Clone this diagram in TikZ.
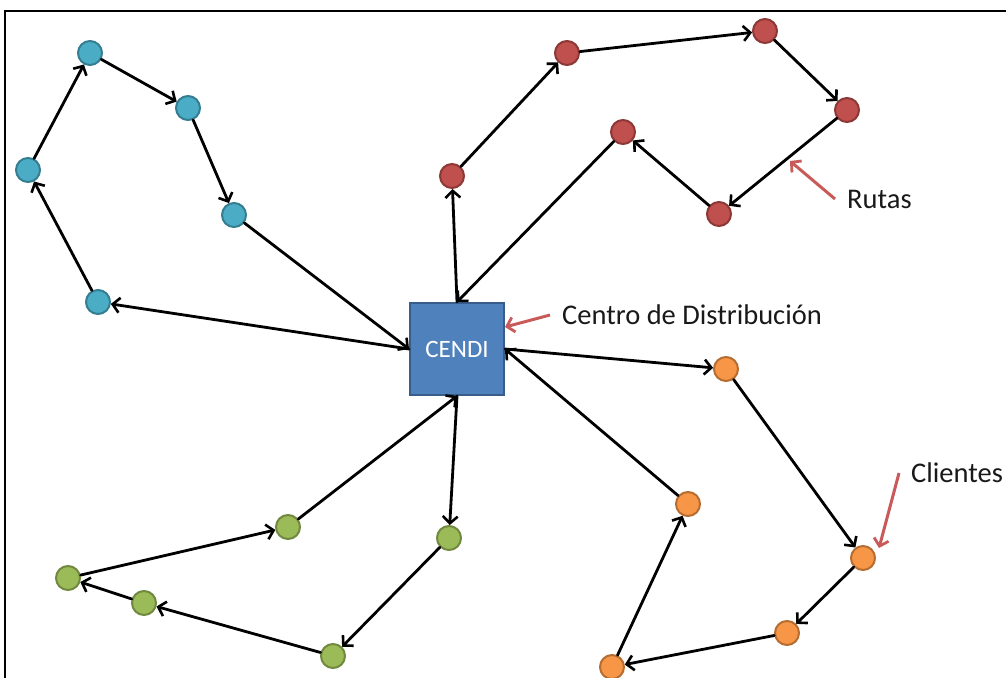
\documentclass[tikz,border=0pt]{standalone}
\usepackage{fontspec}
\setmainfont{Carlito}
\usetikzlibrary{arrows.meta}
\definecolor{bfill}{HTML}{4BACC6}\definecolor{bline}{HTML}{357D91}
\definecolor{rfill}{HTML}{C0504D}\definecolor{rline}{HTML}{8C3836}
\definecolor{gfill}{HTML}{9BBB59}\definecolor{gline}{HTML}{71893F}
\definecolor{ofill}{HTML}{F79646}\definecolor{oline}{HTML}{B66D31}
\definecolor{cfill}{HTML}{4F81BD}\definecolor{cline}{HTML}{385D8A}
\definecolor{callred}{HTML}{C85A5A}
\begin{document}
\begin{tikzpicture}[x=1pt,y=-1pt,
  client/.style={circle, minimum size=24pt, inner sep=0pt, line width=2pt},
  bnode/.style={client, fill=bfill, draw=bline},
  rnode/.style={client, fill=rfill, draw=rline},
  gnode/.style={client, fill=gfill, draw=gline},
  onode/.style={client, fill=ofill, draw=oline},
  route/.style={line width=2.8pt, line cap=round, -{Straight Barb[length=7pt,width=15pt,line width=2.6pt]}},
  callout/.style={line width=3pt, draw=callred, -{Straight Barb[length=7pt,width=15pt,line width=2.8pt]}},
  lbl/.style={anchor=west, inner ysep=0pt, font=\fontsize{28.5}{33}\selectfont, text=black!90}]
\useasboundingbox (0,0) rectangle (1006,677);
\draw[line width=2pt] (5,700) -- (5,11.5) -- (1020,11.5);

\node[rectangle, minimum width=94pt, minimum height=92pt, fill=cfill, draw=cline, line width=2pt,
  text=white, font=\fontsize{25}{29}\selectfont] (C) at (457,349) {CENDI};

% blue
\node[bnode] (b1) at (90,53) {};
\node[bnode] (b2) at (188,108) {};
\node[bnode] (b3) at (234,215) {};
\node[bnode] (b4) at (98,302) {};
\node[bnode] (b5) at (28,170) {};
% red
\node[rnode] (r1) at (452,176) {};
\node[rnode] (r2) at (567,53) {};
\node[rnode] (r3) at (765,31) {};
\node[rnode] (r4) at (847,110) {};
\node[rnode] (r5) at (719,214) {};
\node[rnode] (r6) at (623,132) {};
% orange
\node[onode] (o1) at (726,369) {};
\node[onode] (o2) at (863,558) {};
\node[onode] (o3) at (787,633) {};
\node[onode] (o4) at (612,667) {};
\node[onode] (o5) at (688,504) {};
% green
\node[gnode] (g1) at (288,527) {};
\node[gnode] (g2) at (68,578) {};
\node[gnode] (g3) at (144,603) {};
\node[gnode] (g4) at (333,656) {};
\node[gnode] (g5) at (449,538) {};

% blue route
\draw[route] (C.west) -- (b4);
\draw[route] (b4) -- (b5);
\draw[route] (b5) -- (b1);
\draw[route] (b1) -- (b2);
\draw[route] (b2) -- (b3);
\draw[route] (b3) -- (C.west);
% red route
\draw[route] (C.north) -- (r1);
\draw[route] (r1) -- (r2);
\draw[route] (r2) -- (r3);
\draw[route] (r3) -- (r4);
\draw[route] (r4) -- (r5);
\draw[route] (r5) -- (r6);
\draw[route] (r6) -- (C.north);
% orange route
\draw[route] (C.east) -- (o1);
\draw[route] (o1) -- (o2);
\draw[route] (o2) -- (o3);
\draw[route] (o3) -- (o4);
\draw[route] (o4) -- (o5);
\draw[route] (o5) -- (C.east);
% green route
\draw[route] (C.south) -- (g5);
\draw[route] (g5) -- (g4);
\draw[route] (g4) -- (g3);
\draw[route] (g3) -- (g2);
\draw[route] (g2) -- (g1);
\draw[route] (g1) -- (C.south);

% labels
\node[lbl, inner xsep=12pt] (lc) at (550,315) {Centro de Distribución};
\node[lbl, inner xsep=12pt] (lr) at (835,199) {Rutas};
\node[lbl, inner xsep=12pt] (lk) at (899,473) {Clientes};
\coordinate (tc) at (505,327);
\coordinate (tr) at (790,161);
\coordinate (tk) at (879,548);
\draw[callout] (lc.west) -- (tc);
\draw[callout] (lr.west) -- (tr);
\draw[callout] (lk.west) -- (tk);
\end{tikzpicture}
\end{document}
